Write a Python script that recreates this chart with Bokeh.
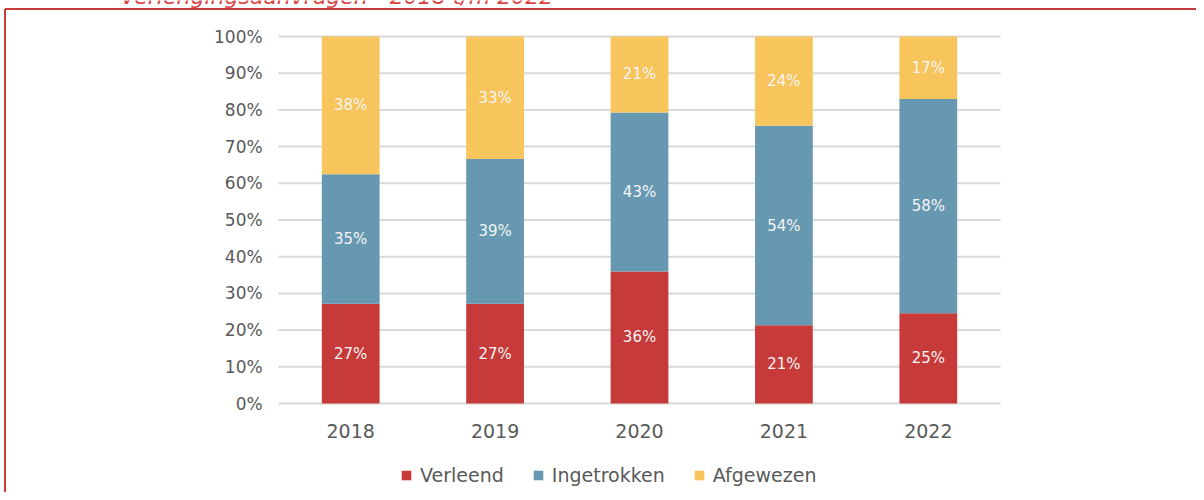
from bokeh.plotting import figure
from bokeh.models import Legend, LegendItem, Range1d, ColumnDataSource
from bokeh.core.properties import value
from bokeh.embed import file_html
from bokeh.resources import INLINE

years = ["2018", "2019", "2020", "2021", "2022"]
verleend = [27.2, 27.2, 36.0, 21.3, 24.6]
ingetrokken = [35.3, 39.4, 43.3, 54.4, 58.4]
afgewezen = [37.5, 33.4, 20.7, 24.3, 17.0]
series_names = ["Verleend", "Ingetrokken", "Afgewezen"]
colors = ["#C73A3A", "#6699B1", "#F7C55B"]
y_ticks = [0, 10, 20, 30, 40, 50, 60, 70, 80, 90, 100]
title_text = "Verlengingsaanvragen - 2018 t/m 2022"

FONT = "DejaVu Sans"
GRAY = "#595959"
GRID = "#D9D9D9"
RED = "#C73A3A"

# one frame covering the whole canvas; data units: 1 category = 144.4px, 1% = 3.67px
W, H = 1196, 492
X0, X1 = -1.9252, 6.3573
Y0, Y1 = -24.25, 109.81
p = figure(width=W, height=H, output_backend="svg", toolbar_location=None,
           x_range=Range1d(X0, X1), y_range=Range1d(Y0, Y1),
           x_axis_type=None, y_axis_type=None,
           min_border_left=0, min_border_right=0, min_border_top=0, min_border_bottom=0)
p.outline_line_color = None
p.xgrid.visible = False
p.ygrid.visible = False
p.background_fill_color = "white"
p.border_fill_color = "white"

xs = [i + 0.5 for i in range(len(years))]
n_cat = len(years)

# gridlines (0% doubles as the category axis line)
p.segment(x0=[0] * len(y_ticks), x1=[n_cat] * len(y_ticks), y0=y_ticks, y1=y_ticks,
          line_color=GRID, line_width=2)

src = ColumnDataSource(dict(x=xs, Verleend=verleend,
                            Ingetrokken=ingetrokken, Afgewezen=afgewezen))
renderers = p.vbar_stack(series_names, x="x", width=0.4, color=colors,
                         line_color=None, source=src)

# data labels
lx, ly, lt = [], [], []
for i in range(n_cat):
    base = 0
    for vals in (verleend, ingetrokken, afgewezen):
        v = vals[i]
        lx.append(xs[i])
        ly.append(base + v / 2)
        lt.append(f"{round(v)}%")
        base += v
p.text(x=lx, y=ly, text=lt, text_color="#F4F4F4", text_align="center",
       text_baseline="middle", text_font=value(FONT), text_font_size="15px")

# y tick labels
p.text(x=[-0.11] * len(y_ticks), y=y_ticks, text=[f"{t}%" for t in y_ticks],
       text_color=GRAY, text_align="right", text_baseline="middle",
       text_font=value(FONT), text_font_size="17px")

# category labels
p.text(x=xs, y=[-7.36] * n_cat, text=years, text_color=GRAY, text_align="center",
       text_baseline="middle", text_font=value(FONT), text_font_size="19px")

# legend
items = [LegendItem(label=n, renderers=[r]) for n, r in zip(series_names, renderers)]
legend = Legend(items=items, orientation="horizontal", location=(400, 6),
                glyph_width=12, glyph_height=12, label_standoff=8, spacing=28,
                padding=0, margin=0, border_line_color=None,
                background_fill_alpha=0,
                label_text_font=FONT, label_text_font_size="19px",
                label_text_color=GRAY)
p.add_layout(legend, "center")

# cut-off chart title at the very top (only its lower edge is visible, as in the source)
p.text(x=[-1.094], y=[110.9], text=[title_text], text_color="#DB4141",
       text_align="left", text_baseline="alphabetic", text_font=value(FONT),
       text_font_style="italic", text_font_size="22px")

# red frame lines (top and left edge)
p.segment(x0=[-1.894, -1.894], x1=[X1 + 1, -1.894], y0=[107.49, 107.49],
          y1=[107.49, Y0 - 5], line_color=RED, line_width=2)

open("out.html", "w").write(file_html(p, INLINE))
